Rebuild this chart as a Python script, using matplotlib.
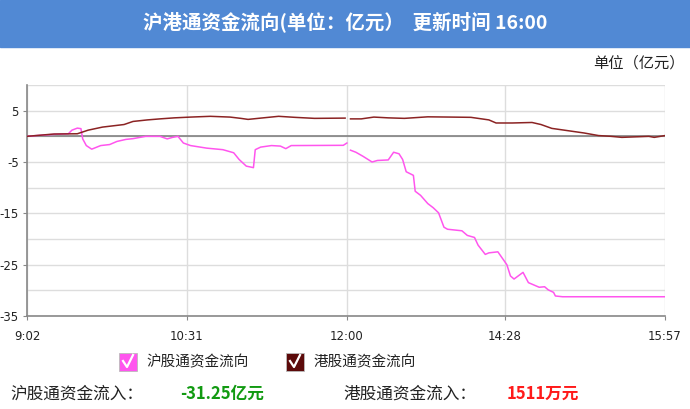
import numpy as np
import matplotlib.pyplot as plt
from matplotlib.patches import Rectangle
from matplotlib.lines import Line2D

plt.rcParams['font.family'] = ['Noto Sans CJK SC', 'DejaVu Sans']
plt.rcParams['axes.unicode_minus'] = False

# x = trading minute counted from 9:02 (lunch break removed, 12:00 = 178)
tick_pos = [0, 89, 178, 266, 355]
tick_labels = ['9:02', '10:31', '12:00', '14:28', '15:57']

# 沪股通 (pink) - morning and afternoon sessions
sh_am_x = [0, 7, 16, 23, 25, 28, 30, 31, 33, 36, 41, 46, 50, 55, 59, 66, 74, 78, 81, 84,
           87, 91, 100, 109, 115, 118, 122, 126, 127, 130, 136, 141, 144, 147, 176, 178]
sh_am_y = [0, 0.2, 0.4, 0.5, 1.2, 1.6, 1.5, -0.5, -1.8, -2.5, -1.8, -1.6, -1.0, -0.6, -0.45,
           0, 0, -0.5, -0.2, 0, -1.3, -1.8, -2.3, -2.6, -3.2, -4.5, -5.8, -6.1, -2.6, -2.1,
           -1.8, -1.9, -2.4, -1.8, -1.75, -1.3]
sh_pm_x = [180, 183, 187, 192, 195, 201, 204, 207, 209, 211, 215, 216, 219, 223, 226, 229,
           232, 234, 242, 245, 249, 251, 255, 257, 262, 265, 267, 269, 271, 276, 279, 281,
           285, 288, 290, 293, 294, 298, 355]
sh_pm_y = [-2.7, -3.1, -3.9, -5.0, -4.7, -4.6, -3.1, -3.4, -4.5, -6.9, -7.6, -10.7, -11.5,
           -13.1, -13.9, -14.9, -17.7, -18.1, -18.4, -19.3, -19.7, -21.2, -23.0, -22.7,
           -22.5, -24.0, -25.0, -27.2, -27.8, -26.5, -28.5, -28.8, -29.4, -29.3, -29.9,
           -30.4, -31.1, -31.25, -31.25]

# 港股通 (dark red)
hk_am_x = [0, 15, 28, 34, 42, 54, 59, 67, 74, 82, 91, 102, 113, 119, 123, 130, 140, 149, 160, 177]
hk_am_y = [0, 0.45, 0.5, 1.2, 1.8, 2.3, 2.9, 3.2, 3.4, 3.6, 3.75, 3.9, 3.75, 3.5, 3.3, 3.55,
           3.9, 3.7, 3.5, 3.55]
hk_pm_x = [180, 186, 193, 201, 210, 223, 236, 247, 257, 261, 270, 281, 286, 292, 301, 310,
           318, 325, 331, 346, 349, 355]
hk_pm_y = [3.4, 3.4, 3.75, 3.6, 3.5, 3.8, 3.75, 3.7, 3.2, 2.6, 2.6, 2.7, 2.3, 1.55, 1.1, 0.65,
           0.15, 0.0, -0.2, 0.0, -0.2, 0.15]

pink = '#ff55ee'
brown = '#8b2323'

W, H = 690, 409
fig = plt.figure(figsize=(W / 100, H / 100), dpi=100)

def fx(px):
    return px / W

def fy(py):
    return 1 - py / H

# title bar
fig.patches.append(Rectangle((0, fy(47)), 1, 47 / H, transform=fig.transFigure,
                             color='#5189d4', zorder=0))
fig.text(0.5, fy(22), '沪港通资金流向(单位：亿元）  更新时间 16:00', color='white',
         fontsize=14, fontweight='bold', ha='center', va='center')
fig.text(fx(685), fy(63), '单位（亿元）', fontsize=11, ha='right', va='center', color='#222222')

ax = fig.add_axes([fx(27), fy(316), (665 - 27) / W, (316 - 85) / H])
ax.plot(sh_am_x, sh_am_y, color=pink, lw=1.1, zorder=3)
ax.plot(sh_pm_x, sh_pm_y, color=pink, lw=1.1, zorder=3)
ax.plot(hk_am_x, hk_am_y, color=brown, lw=1.1, zorder=3)
ax.plot(hk_pm_x, hk_pm_y, color=brown, lw=1.1, zorder=3)
ax.axhline(0, color='#808080', lw=1.2, zorder=2)

ax.set_xlim(0, 355)
ax.set_ylim(-35, 10)
ax.set_xticks(tick_pos)
ax.set_xticklabels(tick_labels)
ax.set_yticks([5, -5, -15, -25, -35])
ax.set_yticks(np.arange(-30, 11, 10), minor=True)
ax.grid(True, which='both', color='#dddddd', lw=1)
ax.set_axisbelow(True)
for s in ['top', 'right']:
    ax.spines[s].set_visible(False)
ax.spines['left'].set_color('#888888')
ax.spines['bottom'].set_color('#888888')
ax.spines['left'].set_linewidth(1.2)
ax.spines['bottom'].set_linewidth(1.2)
ax.tick_params(axis='both', which='major', labelsize=8.5, length=3, color='#888888',
               labelcolor='#222222', pad=3)
ax.tick_params(axis='y', which='minor', length=0)
ax.tick_params(axis='x', pad=7)
for lab in ax.get_xticklabels() + ax.get_yticklabels():
    lab.set_family('DejaVu Sans')

# legend with check boxes
def checkbox(x0, color):
    fig.patches.append(Rectangle((fx(x0), fy(371)), 18 / W, 18 / H, transform=fig.transFigure,
                                 facecolor=color, edgecolor='#bbbbbb', lw=0.6))
    fig.lines.append(Line2D([fx(x0 + 4), fx(x0 + 8), fx(x0 + 14)], [fy(361), fy(367), fy(355)],
                            transform=fig.transFigure, color='white', lw=1.6))

checkbox(119, pink)
fig.text(fx(146), fy(362), '沪股通资金流向', fontsize=10.5, va='center', color='#222222')
checkbox(286, '#5c0a0a')
fig.text(fx(314), fy(362), '港股通资金流向', fontsize=10.5, va='center', color='#222222')

fig.text(fx(10), fy(394), '沪股通资金流入：', fontsize=12, va='center', color='#222222')
fig.text(fx(180), fy(394), '-31.25亿元', fontsize=12, va='center', color='#119a11',
         fontweight='bold')
fig.text(fx(343), fy(394), '港股通资金流入：', fontsize=12, va='center', color='#222222')
fig.text(fx(507), fy(394), '1511万元', fontsize=12, va='center', color='#ff1a1a',
         fontweight='bold')

fig.savefig('out.png', dpi=100)
